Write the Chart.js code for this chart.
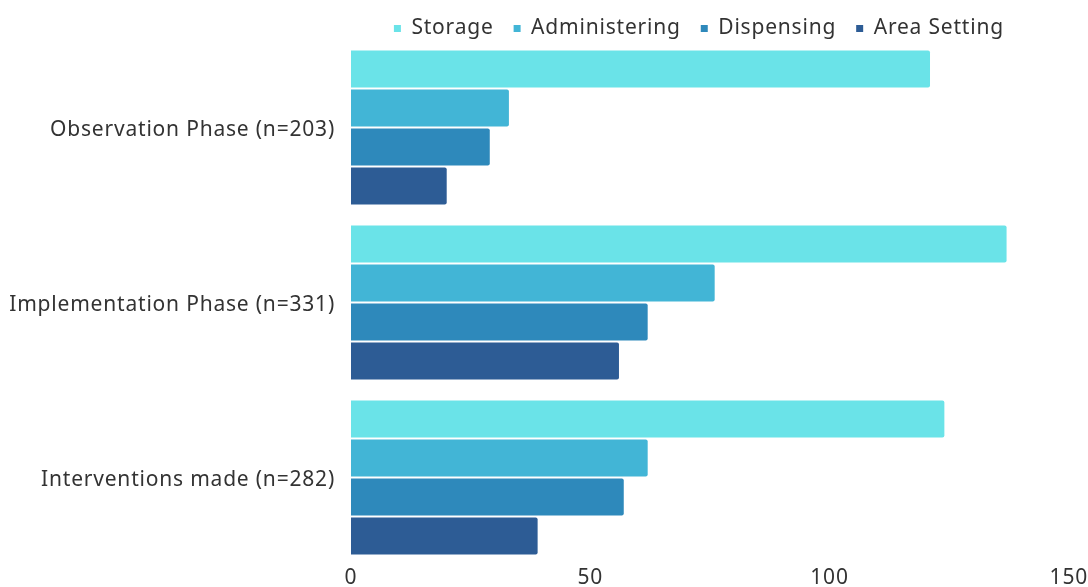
<!DOCTYPE html>
<html>
<head>
<meta charset="utf-8">
<script src="https://cdn.jsdelivr.net/npm/chart.js@4/dist/chart.umd.min.js"></script>
<style>
html,body{margin:0;padding:0;background:#fff;}
#wrap{width:1088px;height:587px;position:relative;}
</style>
</head>
<body>
<div id="wrap"><canvas id="c" width="1088" height="587"></canvas></div>
<script>
const categories = ["Observation Phase (n=203)", "Implementation Phase (n=331)", "Interventions made (n=282)"];
const storage = [121, 137, 124];
const administering = [33, 76, 62];
const dispensing = [29, 62, 57];
const areaSetting = [20, 56, 39];
const xTicks = [0, 50, 100, 150];

const FONT = "'Noto Sans', sans-serif";
const TXT = "#333333";

const tweaks = {
  id: 'tweaks',
  beforeInit(chart) {
    try { chart.ctx.letterSpacing = '0.8px'; } catch (e) {}
    const lg = chart.legend;
    if (lg) {
      const orig = lg.fit;
      lg.fit = function () { orig.call(this); this.height = 40; };
    }
  },
  beforeUpdate(chart) { try { chart.ctx.letterSpacing = '0.8px'; } catch (e) {} },
  afterLayout(chart) {
    const lg = chart.legend;
    if (lg) { lg.left -= 11; lg.right -= 11; lg.top -= 2; }
  },
  beforeDraw(chart) { try { chart.ctx.letterSpacing = '0.8px'; } catch (e) {} }
};

const mk = (label, data, color) => ({
  label, data, backgroundColor: color, borderWidth: 0, borderRadius: 2, borderSkipped: 'start',
  categoryPercentage: 0.89, barPercentage: 0.95
});

new Chart(document.getElementById('c'), {
  type: 'bar',
  data: {
    labels: categories,
    datasets: [
      mk('Storage', storage, '#6ae3e8'),
      mk('Administering', administering, '#42b5d6'),
      mk('Dispensing', dispensing, '#2e89bb'),
      mk('Area Setting', areaSetting, '#2d5c95')
    ]
  },
  options: {
    indexAxis: 'y',
    responsive: false,
    animation: false,
    layout: { padding: { left: 0, right: 6, top: 0, bottom: 0 } },
    plugins: {
      legend: {
        position: 'top',
        fullSize: false,
        labels: {
          font: { family: FONT, size: 21 },
          color: TXT,
          boxWidth: 7,
          boxHeight: 7,
          padding: 20
        }
      },
      tooltip: { enabled: false }
    },
    scales: {
      x: {
        min: 0, max: 150,
        afterBuildTicks(scale) { scale.ticks = xTicks.map(v => ({ value: v })); },
        afterFit(scale) { scale.height = 22; },
        grid: { display: false, drawTicks: false },
        border: { display: false },
        ticks: { font: { family: FONT, size: 21 }, color: TXT, padding: 0, maxRotation: 0 }
      },
      y: {
        afterFit(scale) { scale.width = 351; scale.paddingTop = 0; scale.paddingBottom = 0; },
        grid: { display: false, drawTicks: false },
        border: { display: false },
        ticks: { font: { family: FONT, size: 21 }, color: TXT, padding: 16, labelOffset: 3 }
      }
    }
  },
  plugins: [tweaks]
});
</script>
</body>
</html>
